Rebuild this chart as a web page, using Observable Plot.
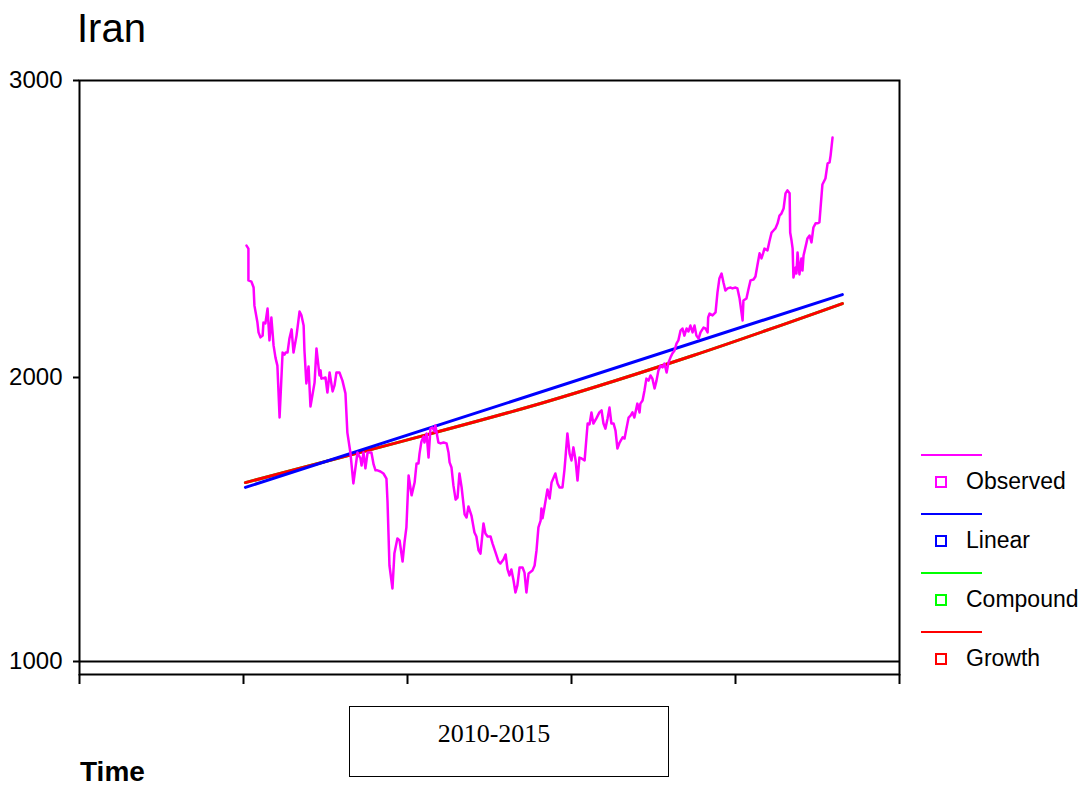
<!DOCTYPE html>
<html>
<head>
<meta charset="utf-8">
<script src="https://cdn.jsdelivr.net/npm/d3@7"></script>
<script src="https://cdn.jsdelivr.net/npm/@observablehq/plot@0.6"></script>
<style>
  html, body { margin: 0; padding: 0; background: #fff; }
  #wrap { position: relative; width: 1089px; height: 788px; font-family: "Liberation Sans", Arial, sans-serif; overflow: hidden; }
  #wrap svg { position: absolute; left: 0; top: 0; }
  .title { position: absolute; left: 77px; top: 4px; font-size: 40px; line-height: 48px; color: #000; }
  .time { position: absolute; left: 80px; top: 756px; font-size: 28px; font-weight: bold; line-height: 32px; color: #000; }
  .box { position: absolute; left: 349px; top: 706px; width: 318px; height: 69px; border: 1.5px solid #000; box-sizing: content-box; }
  .box span { position: absolute; left: 0; width: 288px; top: 12px; text-align: center; font-family: "Liberation Serif", "Times New Roman", serif; font-size: 26px; line-height: 30px; }
  .legend { position: absolute; left: 921px; top: 444px; }
  .lg-item { position: relative; height: 59px; width: 168px; }
  .lg-line { position: absolute; left: 0; top: 10px; width: 61px; height: 2px; }
  .lg-sq { position: absolute; left: 14px; top: 32px; width: 8px; height: 8px; border: 2px solid; }
  .lg-text { position: absolute; left: 45px; top: 23px; font-size: 23px; line-height: 28px; color: #000; }
</style>
</head>
<body>
<div id="wrap"></div>
<script>
// ---- data ----
const title = "Iran";
const periodLabel = "2010-2015";
const xAxisTitle = "Time";
const yTicks = [1000, 2000, 3000];
const xTicks = [0, 60, 120, 180, 240, 300];
const seriesNames = ["Observed", "Linear", "Compound", "Growth"];
const seriesColors = ["#ff00ff", "#0000ff", "#00ff00", "#ff0000"];

// Observed series (time index, value)
const obsT = [61.1,61.8,61.8,62.9,63.7,64.0,65.1,65.5,66.2,67.0,67.3,68.0,68.8,69.5,70.2,71.0,71.7,72.4,73.2,74.3,
75.0,75.4,76.1,76.8,77.6,78.3,79.4,80.5,81.2,82.0,82.3,83.0,83.8,84.5,86.0,86.7,87.8,88.2,88.5,90.0,
90.7,91.5,92.6,93.3,94.0,95.1,96.2,97.3,98.0,99.1,100.2,101.7,102.8,103.2,103.9,104.6,105.4,106.8,107.6,108.3,
109.0,110.1,111.2,112.3,112.7,113.4,114.5,115.2,116.3,117.1,118.2,118.9,119.6,120.4,121.5,122.6,123.3,124.0,124.4,125.1,
125.9,126.2,127.0,127.7,128.4,129.1,129.9,130.2,131.3,132.1,133.2,134.3,135.0,135.4,136.1,136.8,137.6,138.3,139.0,139.8,
140.9,141.6,142.3,143.4,144.5,145.2,146.0,146.7,147.8,148.5,149.3,150.4,151.1,152.2,153.3,154.0,155.1,155.9,156.6,157.3,
158.0,158.8,159.5,160.2,161.0,162.1,162.8,163.5,164.3,165.7,166.5,167.2,167.9,168.7,169.0,169.4,170.1,171.2,172.0,172.7,
174.1,174.9,175.6,176.7,177.4,177.8,178.5,179.3,180.0,180.7,181.5,182.2,182.9,183.7,184.8,185.9,186.6,187.3,188.0,189.1,
190.2,191.0,191.7,192.4,193.2,193.9,194.6,195.4,196.1,196.8,197.6,198.7,199.4,200.1,200.9,201.6,202.3,203.0,204.1,204.9,
205.2,206.0,206.7,207.4,208.2,208.9,209.6,210.4,211.1,211.8,212.6,213.3,214.0,214.8,215.5,216.2,216.9,217.7,218.4,219.1,
219.9,220.6,221.3,222.1,222.8,223.5,224.3,225.0,225.7,226.5,227.2,228.3,229.0,229.8,230.0,230.5,231.6,232.7,233.4,234.1,
234.9,235.6,236.3,237.1,238.2,238.9,240.0,240.7,241.5,242.2,242.6,242.9,244.0,244.8,245.5,246.6,247.3,248.0,248.8,249.5,
250.2,250.6,251.7,252.4,253.2,253.9,254.6,255.4,256.1,256.8,257.6,258.3,259.0,259.8,260.0,260.5,260.9,261.2,262.0,262.3,
262.7,263.4,264.1,264.5,264.9,266.0,266.3,267.1,267.8,268.5,269.3,270.0,270.7,271.1,271.8,272.9,273.7,274.4,274.8,275.5];
const obsV = [2444,2434,2327,2323,2303,2242,2185,2152,2135,2141,2185,2182,2232,2125,2202,2108,2067,2040,1859,2084,
2077,2084,2084,2131,2162,2084,2141,2222,2209,2175,2091,1979,2037,1898,1982,2098,2007,2024,1996,2000,
1947,2017,1951,1972,2017,2017,1989,1944,1806,1736,1627,1736,1715,1690,1736,1680,1736,1736,1694,1673,
1673,1669,1662,1644,1560,1338,1257,1380,1433,1426,1352,1419,1472,1655,1585,1630,1697,1697,1732,1775,
1792,1771,1803,1718,1820,1824,1810,1831,1771,1768,1771,1768,1736,1701,1683,1620,1570,1577,1662,1613,
1518,1507,1546,1514,1454,1440,1391,1380,1486,1451,1440,1440,1416,1384,1352,1345,1359,1377,1324,1303,
1324,1285,1243,1268,1331,1331,1313,1243,1310,1320,1338,1391,1472,1496,1539,1504,1542,1606,1574,1630,
1662,1627,1613,1613,1673,1718,1803,1732,1708,1754,1708,1637,1718,1715,1708,1838,1835,1877,1838,1856,
1877,1884,1838,1820,1856,1894,1838,1838,1813,1750,1771,1789,1785,1820,1859,1866,1877,1859,1908,1877,
1908,1919,1954,1996,1989,2007,1996,1961,1989,2024,2040,2034,2047,2017,2051,2067,2081,2091,2114,2125,
2158,2165,2141,2165,2155,2175,2152,2175,2141,2131,2152,2168,2165,2152,2202,2215,2209,2219,2286,2333,
2350,2320,2293,2300,2303,2300,2303,2300,2266,2219,2192,2259,2266,2300,2327,2330,2340,2377,2418,2401,
2421,2434,2428,2458,2488,2495,2502,2519,2545,2552,2569,2620,2630,2620,2488,2461,2434,2337,2370,2350,
2421,2347,2401,2360,2411,2455,2468,2478,2455,2505,2519,2519,2522,2569,2650,2670,2721,2724,2748,2808];

// Fitted models
const linearT = [60.7, 279.1];
const linearV = [1613, 2279];
const growthT = [60.7, 115.2, 169.9, 224.5, 279.1];
const growthV = [1630, 1768, 1912, 2074, 2249];
const compoundT = growthT;
const compoundV = growthV;

// ---- build tables ----
const observed = obsT.map((t, i) => ({t, v: obsV[i]}));
const linear = linearT.map((t, i) => ({t, v: linearV[i]}));
const compound = compoundT.map((t, i) => ({t, v: compoundV[i]}));
const growth = growthT.map((t, i) => ({t, v: growthV[i]}));

// The original axis is slightly compressed below 2000 (284px vs 297px per 1000)
const squeeze = v => (v >= 2000 ? v : 2000 - (2000 - v) * (284 / 297));

const W = 1089, H = 788;
const plot = Plot.plot({
  width: W,
  height: H,
  marginLeft: 79,
  marginRight: 190,
  marginTop: 80,
  marginBottom: 114,
  style: {fontFamily: "'Liberation Sans', Arial, sans-serif", fontSize: "24px", color: "#000", background: "transparent"},
  x: {domain: [xTicks[0], xTicks[xTicks.length - 1]]},
  y: {type: "linear", transform: squeeze, domain: [squeeze(yTicks[0]), yTicks[2]], range: [661, 80]},
  marks: [
    Plot.ruleY([yTicks[0]], {stroke: "#000", strokeWidth: 2}),
    Plot.line(compound, {x: "t", y: "v", stroke: seriesColors[2], strokeWidth: 3, curve: "monotone-x"}),
    Plot.line(growth, {x: "t", y: "v", stroke: seriesColors[3], strokeWidth: 3, curve: "monotone-x"}),
    Plot.line(linear, {x: "t", y: "v", stroke: seriesColors[1], strokeWidth: 3}),
    Plot.line(observed, {x: "t", y: "v", stroke: seriesColors[0], strokeWidth: 2.5, strokeLinejoin: "round"}),
    Plot.frame({stroke: "#000", strokeWidth: 2}),
    Plot.axisY(yTicks, {y: d => d, tickSize: 6, tickPadding: 11, strokeWidth: 2, label: null, tickFormat: d3.format("d"), fontSize: 24}),
    Plot.axisX(xTicks, {x: d => d, tickSize: 10, tickPadding: 0, strokeWidth: 2, label: null, tickFormat: () => ""})
  ]
});

const wrap = document.getElementById("wrap");
wrap.appendChild(plot);

const t = document.createElement("div");
t.className = "title"; t.textContent = title; wrap.appendChild(t);

const box = document.createElement("div");
box.className = "box";
const bs = document.createElement("span"); bs.textContent = periodLabel; box.appendChild(bs);
wrap.appendChild(box);

const tm = document.createElement("div");
tm.className = "time"; tm.textContent = xAxisTitle; wrap.appendChild(tm);

const lg = document.createElement("div");
lg.className = "legend";
seriesNames.forEach((name, i) => {
  const it = document.createElement("div"); it.className = "lg-item";
  const ln = document.createElement("div"); ln.className = "lg-line"; ln.style.background = seriesColors[i];
  const sq = document.createElement("div"); sq.className = "lg-sq"; sq.style.borderColor = seriesColors[i];
  const tx = document.createElement("div"); tx.className = "lg-text"; tx.textContent = name;
  it.appendChild(ln); it.appendChild(sq); it.appendChild(tx);
  lg.appendChild(it);
});
wrap.appendChild(lg);
</script>
</body>
</html>
